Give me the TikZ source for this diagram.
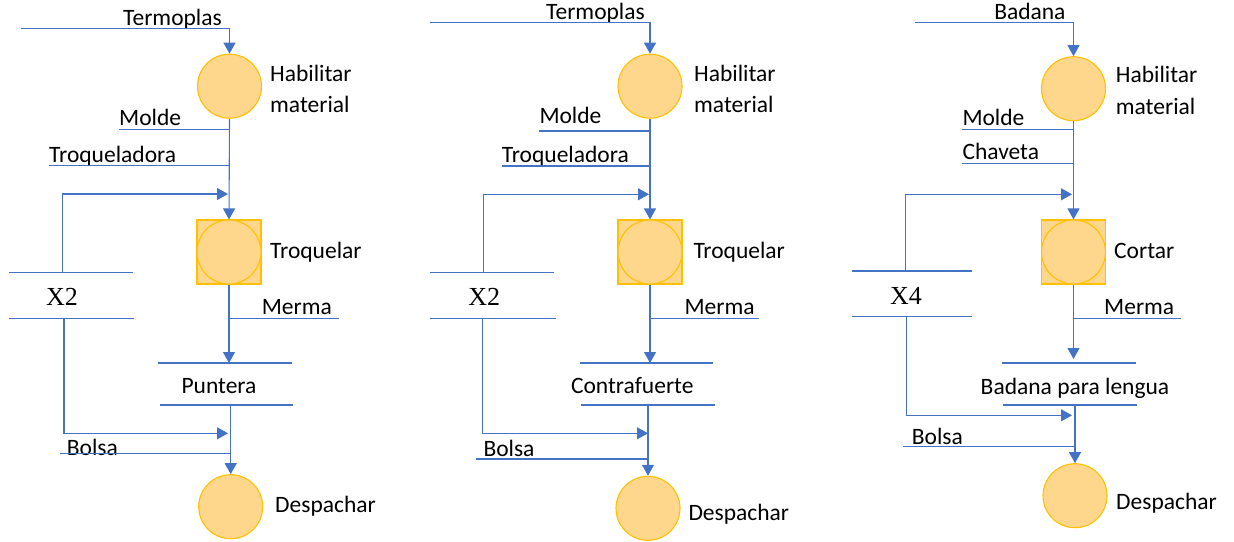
\documentclass[tikz,border=0pt]{standalone}
\usepackage{fontspec}
\setmainfont{Carlito}
\newfontfamily\multfont{Liberation Serif}
\usetikzlibrary{arrows.meta}
\definecolor{flowblue}{RGB}{68,114,196}
\definecolor{opedge}{RGB}{255,192,0}
\definecolor{opfill}{RGB}{255,215,140}
\tikzset{
  ln/.style={draw=flowblue, line width=1.1pt},
  flow/.style={ln, -{Triangle[length=11pt,width=12pt]}},
  proc/.style={circle, draw=opedge, fill=opfill, line width=1.1pt, minimum size=64pt, inner sep=0pt},
  opbox/.style={rectangle, draw=opedge, fill=opfill, line width=1.1pt, minimum size=64pt, inner sep=0pt},
  lbl/.style={font=\fontsize{23.5}{28}\selectfont, inner sep=0pt, anchor=base west},
  lblc/.style={lbl, anchor=base},
  lble/.style={lbl, anchor=base east},
  mult/.style={font=\multfont\fontsize{26}{30}\selectfont, inner sep=0pt, anchor=base}
}
\begin{document}
\begin{tikzpicture}[x=1pt,y=-1pt]
\useasboundingbox (0,0) rectangle (1234,541);

% ---------- Column 1: Puntera ----------
\node[proc] (h1) at (229.5,86.2) {};
\node[opbox] (s1) at (229,252) {};
\node[proc] (s1c) at (s1) {};
\node[proc] (d1) at (230.7,506.7) {};
\node[lble] (t1) at (222,25) {Termoplas};
\node[lbl] (hab1) at (270,81) {Habilitar};
\node[lbl] (mat1) at (270,112) {material};
\node[lbl] (mo1) at (119,125.7) {Molde};
\node[lbl] (tr1) at (49,162) {Troqueladora};
\node[lbl] (op1) at (270,258) {Troquelar};
\node[mult] (x1) at (62,305.7) {X2};
\node[lbl] (me1) at (261.7,314) {Merma};
\node[lblc] (pu1) at (219,393) {Puntera};
\node[lbl] (bo1) at (66.7,455) {Bolsa};
\node[lbl] (de1) at (275,512) {Despachar};
\coordinate (in1) at (20.7,28.3);
\coordinate (xt1) at (62.7,272.3);
\coordinate (xb1) at (64,318.3);
\coordinate (fa1) at (228,194);
\coordinate (fb1) at (228,433.3);
\coordinate (pt1) at (229,363);
\coordinate (pb1) at (230.7,405);
\draw[flow] (in1) -| (h1.north);
\draw[flow] (h1.south) -- (s1.north);
\draw[ln] (119,129.3) -- (229.5,129.3);
\draw[ln] (49,165.7) -- (229.5,165.7);
\draw[flow] (xt1) |- (fa1);
\draw[ln] (9,272.3) -- (132.7,272.3);
\draw[ln] (9,318.3) -- (134,318.3);
\draw[flow] (xb1) |- (fb1);
\draw[flow] (s1.south) -- (pt1);
\draw[ln] (229,318.3) -- (339,318.3);
\draw[ln] (158,363) -- (292,363);
\draw[ln] (160,405) -- (293,405);
\draw[flow] (pb1) -- (d1.north);
\draw[ln] (60,453.3) -- (230.7,453.3);

% ---------- Column 2: Contrafuerte ----------
\node[proc] (h2) at (650,86.2) {};
\node[opbox] (s2) at (650,252) {};
\node[proc] (s2c) at (s2) {};
\node[proc] (d2) at (648,508.3) {};
\node[lble] (t2) at (645,19) {Termoplas};
\node[lbl] (hab2) at (694,81) {Habilitar};
\node[lbl] (mat2) at (694,112) {material};
\node[lbl] (mo2) at (539.3,123) {Molde};
\node[lbl] (tr2) at (501.7,162) {Troqueladora};
\node[lbl] (op2) at (693.3,258) {Troquelar};
\node[mult] (x2) at (484.3,305.7) {X2};
\node[lbl] (me2) at (684.3,314) {Merma};
\node[lblc] (pu2) at (632.3,393.3) {Contrafuerte};
\node[lbl] (bo2) at (483.3,456.7) {Bolsa};
\node[lbl] (de2) at (688.3,520) {Despachar};
\coordinate (in2) at (430,22.7);
\coordinate (xt2) at (483.3,272.3);
\coordinate (xb2) at (482.7,318.3);
\coordinate (fa2) at (649,194.3);
\coordinate (fb2) at (648,433.3);
\coordinate (pt2) at (650,363);
\coordinate (pb2) at (648,405);
\draw[flow] (in2) -| (h2.north);
\draw[flow] (h2.south) -- (s2.north);
\draw[ln] (539.3,131) -- (650,131);
\draw[ln] (501.7,166) -- (650,166);
\draw[flow] (xt2) |- (fa2);
\draw[ln] (430,272.3) -- (554.3,272.3);
\draw[ln] (430,318.3) -- (555.7,318.3);
\draw[flow] (xb2) |- (fb2);
\draw[flow] (s2.south) -- (pt2);
\draw[ln] (650,318.3) -- (759,318.3);
\draw[ln] (580,363) -- (713.3,363);
\draw[ln] (581.3,405) -- (715,405);
\draw[flow] (pb2) -- (d2.north);
\draw[ln] (476,459) -- (648,459);

% ---------- Column 3: Badana para lengua ----------
\node[proc] (h3) at (1073.5,88.7) {};
\node[opbox] (s3) at (1073.5,252) {};
\node[proc] (s3c) at (s3) {};
\node[proc] (d3) at (1075,495.7) {};
\node[lble] (t3) at (1065.7,19) {Badana};
\node[lbl] (hab3) at (1115.7,82.3) {Habilitar};
\node[lbl] (mat3) at (1115.7,114.3) {material};
\node[lbl] (mo3) at (962.3,125.7) {Molde};
\node[lbl] (ch3) at (962.3,159.3) {Chaveta};
\node[lbl] (op3) at (1114,258) {Cortar};
\node[mult] (x3) at (906,304) {X4};
\node[lbl] (me3) at (1104,314) {Merma};
\node[lblc] (pu3) at (1075,394.3) {Badana para lengua};
\node[lbl] (bo3) at (911.7,444) {Bolsa};
\node[lbl] (de3) at (1116,509.3) {Despachar};
\coordinate (in3) at (915,22.7);
\coordinate (xt3) at (905.7,271);
\coordinate (xb3) at (906.7,316.7);
\coordinate (fa3) at (1072,194.3);
\coordinate (fb3) at (1072,415.3);
\coordinate (pt3) at (1073.5,359);
\coordinate (pb3) at (1075,405);
\draw[flow] (in3) -| (h3.north);
\draw[flow] (h3.south) -- (s3.north);
\draw[ln] (962.3,129.3) -- (1073.5,129.3);
\draw[ln] (962.3,163.3) -- (1073.5,163.3);
\draw[flow] (xt3) |- (fa3);
\draw[ln] (851.7,271) -- (971.7,271);
\draw[ln] (851.7,316.7) -- (971.7,316.7);
\draw[flow] (xb3) |- (fb3);
\draw[flow] (s3.south) -- (pt3);
\draw[ln] (1073.5,318.3) -- (1180.7,318.3);
\draw[ln] (1001.7,363) -- (1135.7,363);
\draw[ln] (1003.3,405) -- (1136.7,405);
\draw[flow] (pb3) -- (d3.north);
\draw[ln] (903.3,446.7) -- (1075,446.7);
\end{tikzpicture}
\end{document}
